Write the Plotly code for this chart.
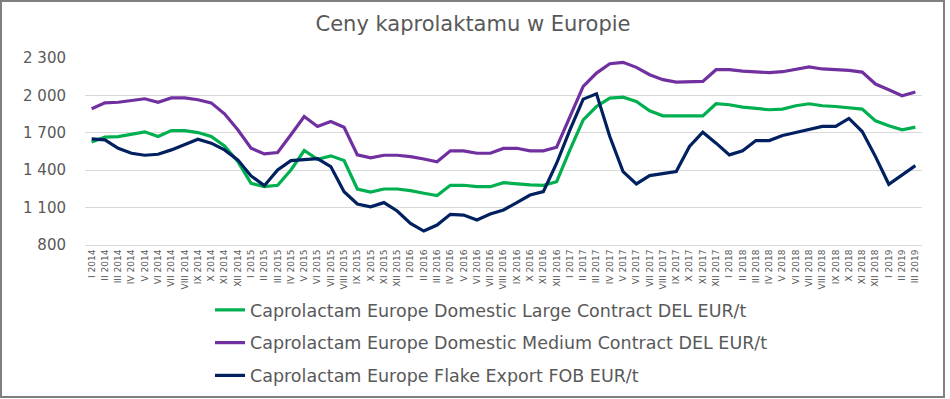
import plotly.graph_objects as go

roman = ["I", "II", "III", "IV", "V", "VI", "VII", "VIII", "IX", "X", "XI", "XII"]
months = [f"{roman[m]} {y}" for y in range(2014, 2020) for m in range(12)][:63]

large = [1627, 1665, 1670, 1689, 1708, 1670, 1718, 1718, 1702, 1670,
         1595, 1470, 1295, 1268, 1279, 1402, 1558, 1488, 1515, 1477,
         1249, 1225, 1249, 1249, 1236, 1215, 1196, 1279, 1279, 1268,
         1268, 1300, 1290, 1282, 1279, 1308, 1563, 1804, 1911, 1978,
         1986, 1952, 1877, 1836, 1836, 1836, 1836, 1933, 1925, 1906,
         1898, 1885, 1890, 1917, 1933, 1917, 1911, 1903, 1890, 1796,
         1756, 1724, 1745]

medium = [1893, 1940, 1945, 1960, 1973, 1945, 1980, 1980, 1965, 1940,
          1852, 1724, 1576, 1531, 1542, 1684, 1831, 1751, 1791, 1745,
          1523, 1499, 1520, 1520, 1509, 1490, 1467, 1555, 1555, 1536,
          1536, 1575, 1576, 1555, 1555, 1584, 1831, 2072, 2179, 2254,
          2265, 2225, 2166, 2126, 2107, 2112, 2112, 2206, 2206, 2195,
          2187, 2182, 2190, 2209, 2228, 2212, 2206, 2201, 2187, 2091,
          2045, 1997, 2027]

flake = [1651, 1643, 1576, 1536, 1520, 1528, 1563, 1609, 1649, 1617,
         1563, 1483, 1354, 1276, 1402, 1477, 1488, 1493, 1429, 1228,
         1129, 1107, 1140, 1073, 973, 912, 960, 1046, 1040, 1000,
         1048, 1081, 1140, 1201, 1228, 1456, 1724, 1970, 2013, 1670,
         1389, 1290, 1357, 1375, 1389, 1590, 1705, 1617, 1523, 1555,
         1638, 1638, 1678, 1702, 1729, 1751, 1751, 1815, 1710, 1509,
         1287, 1362, 1437]

names = ["Caprolactam Europe Domestic Large Contract DEL EUR/t",
         "Caprolactam Europe Domestic Medium Contract DEL EUR/t",
         "Caprolactam Europe Flake Export FOB EUR/t"]
colors = ["#00B050", "#7030A0", "#002060"]
y_ticks = [800, 1100, 1400, 1700, 2000, 2300]
y_labels = ["800", "1 100", "1 400", "1 700", "2 000", "2 300"]

fig = go.Figure()
for i, (nm, vals, col) in enumerate(zip(names, [large, medium, flake], colors)):
    fig.add_trace(go.Scatter(x=months, y=vals, mode="lines", name=nm,
                             legendgroup=f"g{i}",
                             line=dict(color=col, width=3.2)))

W, H = 950, 399
L, R, T, B = 85, 28, 58, 154
pw, ph = W - L - R, H - T - B

def px_x(p):
    return (p - L) / pw

def px_y(p):
    return (H - B - p) / ph

fig.add_shape(type="rect", xref="paper", yref="paper",
              x0=px_x(1), x1=px_x(944), y0=px_y(397), y1=px_y(1),
              line=dict(color="#808080", width=2), layer="below")

FONT = "DejaVu Sans"
fig.update_layout(
    width=W, height=H,
    margin=dict(l=L, r=R, t=T, b=B, autoexpand=False),
    paper_bgcolor="white", plot_bgcolor="white",
    font=dict(family=FONT, color="#595959"),
    title=dict(text="Ceny kaprolaktamu w Europie", x=473 / W, xanchor="center",
               y=1 - 24 / H, yanchor="middle",
               font=dict(size=21, color="#595959", family=FONT)),
    showlegend=True,
    legend=dict(x=px_x(210), y=px_y(292), xanchor="left", yanchor="top",
                orientation="v", traceorder="grouped", tracegroupgap=7,
                font=dict(size=17.5, color="#595959", family=FONT),
                bgcolor="rgba(0,0,0,0)"),
    xaxis=dict(type="category", range=[-0.5, 62.5], tickmode="array",
               tickvals=months, ticktext=months, tickangle=-90,
               tickfont=dict(size=9, color="#595959", family=FONT),
               showgrid=False, showline=True, linecolor="#d9d9d9",
               linewidth=1, ticks=""),
    yaxis=dict(range=[800, 2300], tickvals=y_ticks, ticktext=y_labels,
               tickfont=dict(size=15, color="#595959", family=FONT),
               showgrid=True, gridcolor="#d9d9d9", gridwidth=1,
               zeroline=False, showline=False, ticks="",
               ticklabelstandoff=18),
)

fig.write_html("out.html", config={"displayModeBar": False},
               post_script="document.body.style.margin='0';")
